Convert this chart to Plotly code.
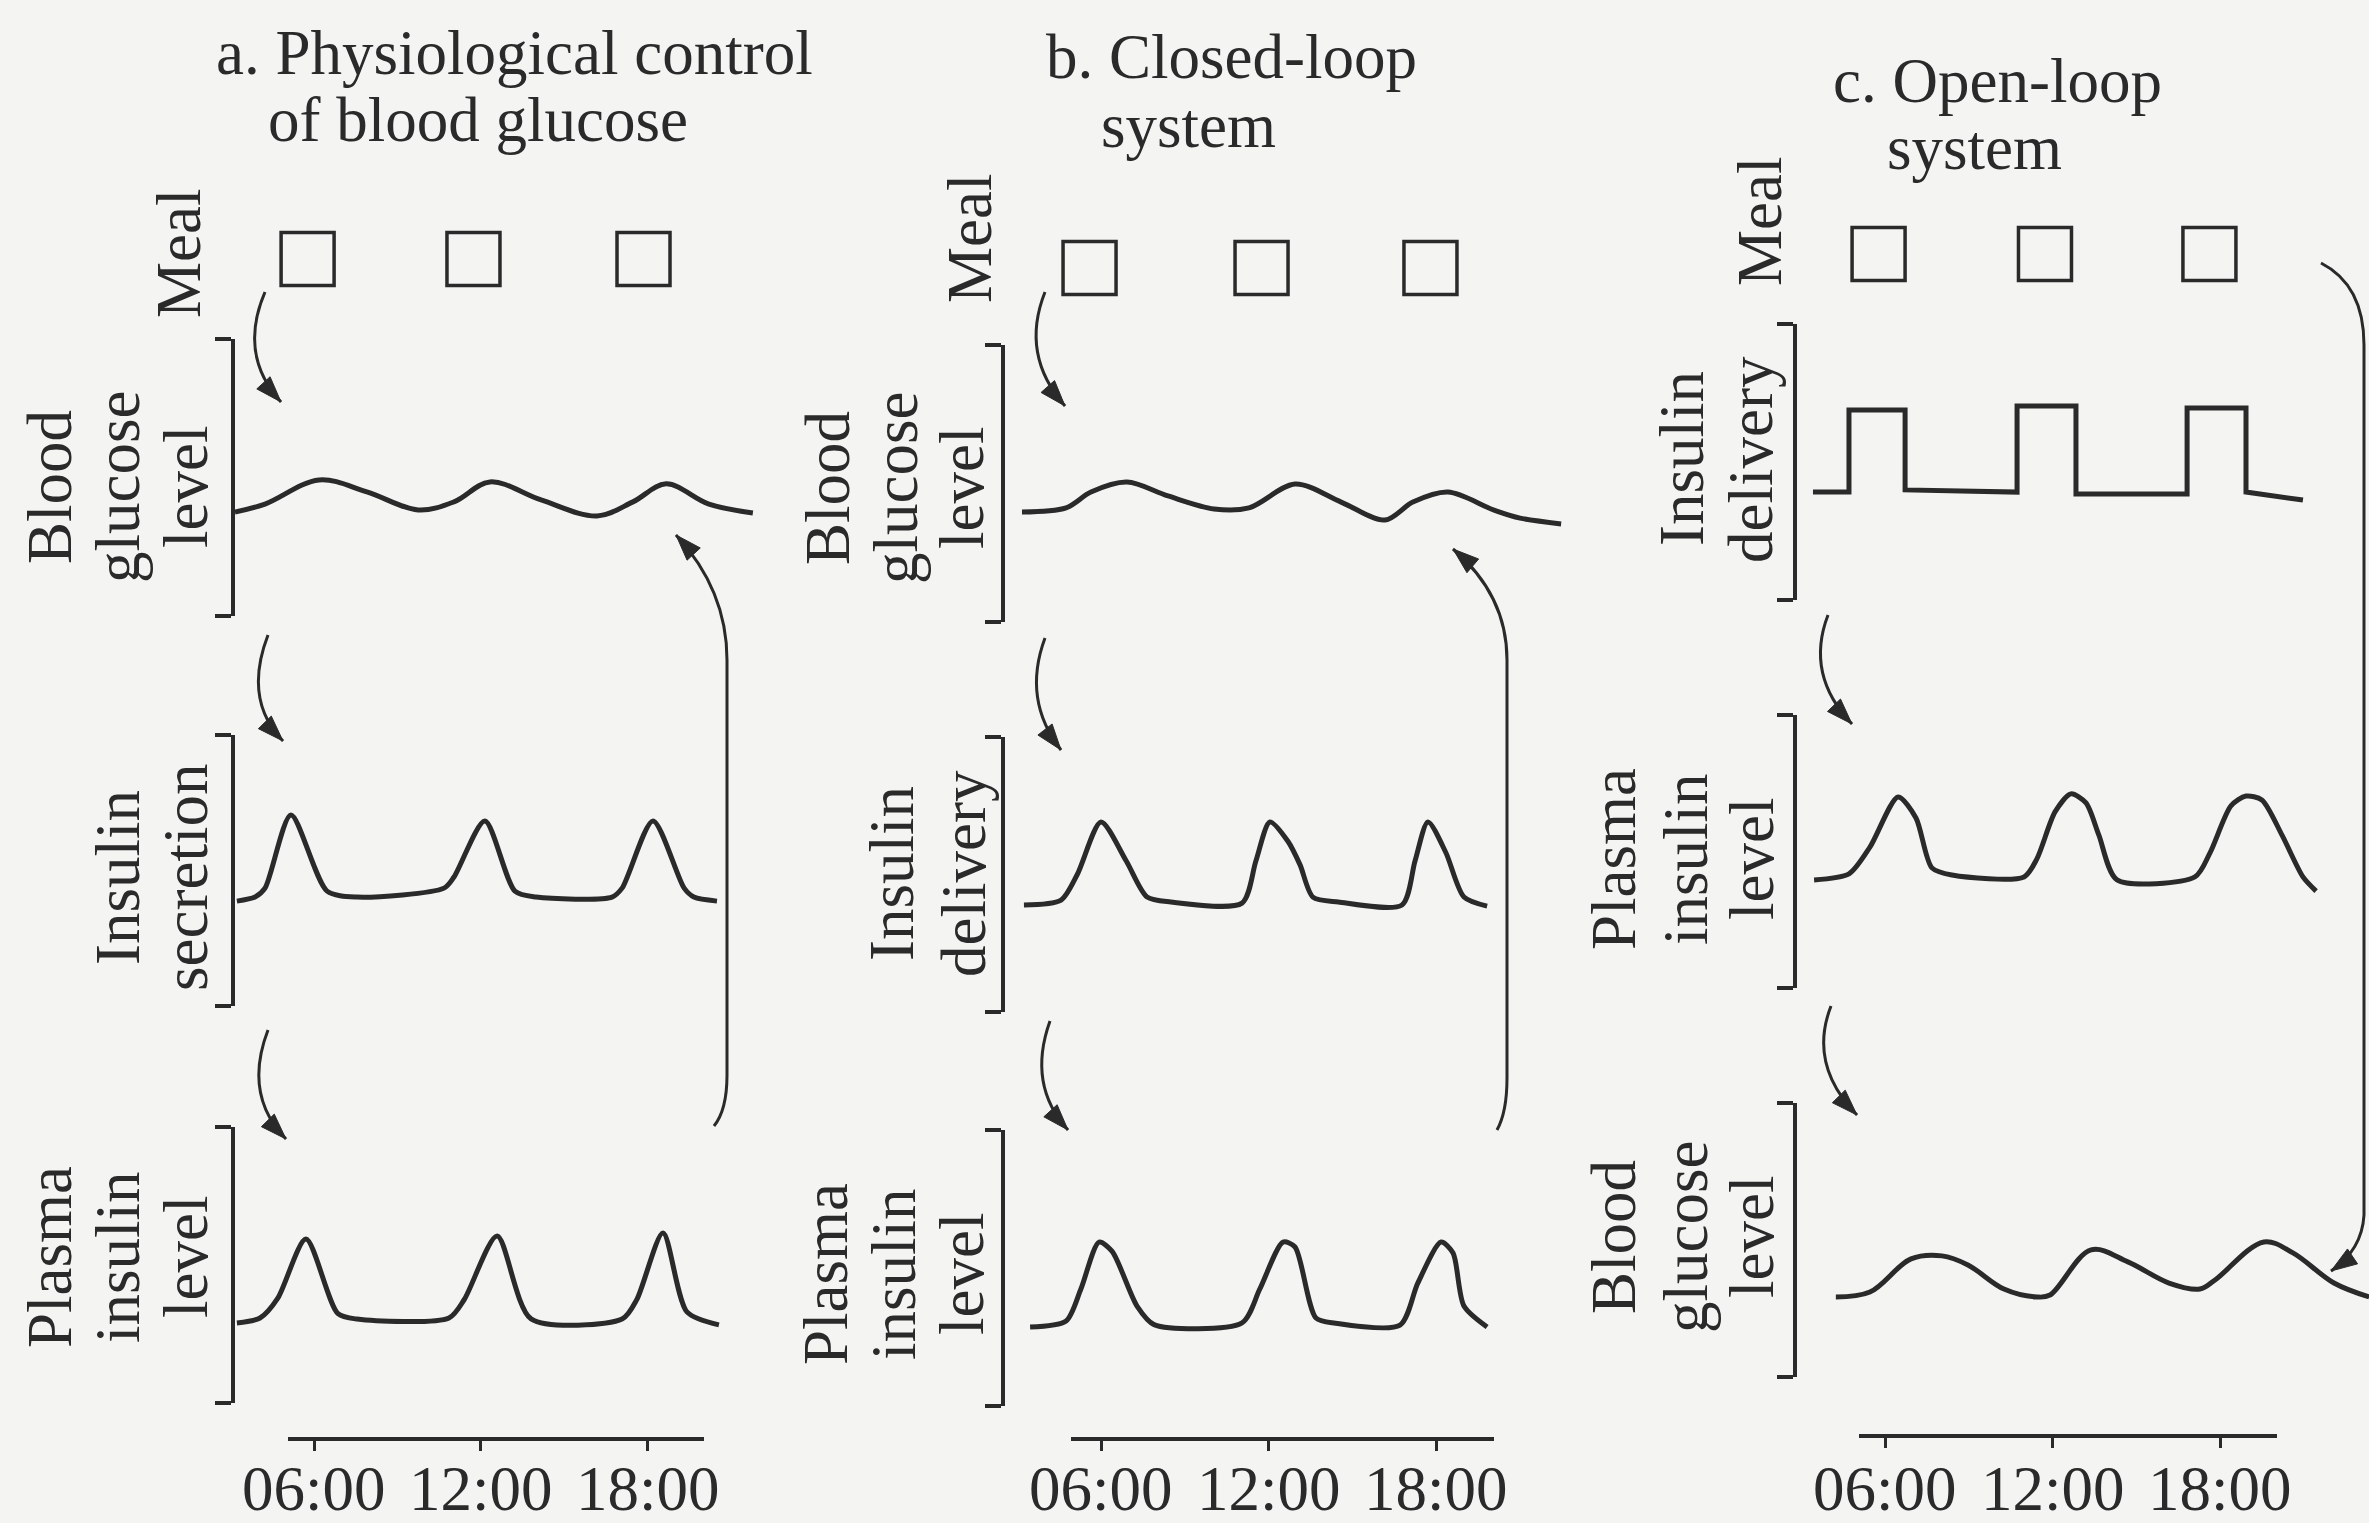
import math
import plotly.graph_objects as go

# ---------------- data (hours of the day / relative level 0-100) ----------------
TICK_HOURS = [6, 12, 18]
TICK_LABELS = ["06:00", "12:00", "18:00"]

TITLE_A = ["a. Physiological control", "of blood glucose"]
TITLE_B = ["b. Closed-loop", "system"]
TITLE_C = ["c. Open-loop", "system"]

MEAL_A = [5.77, 11.73, 17.84]
MEAL_B = [5.59, 11.75, 17.80]
MEAL_C = [5.77, 11.73, 17.62]
MEAL_LEVEL = [0.5, 0.5, 0.5]

# a. physiological control
A_GLUCOSE_H = [3.16, 4.24, 6.18, 7.90, 9.74, 11.03, 12.32, 14.16, 16.17, 17.46, 18.65, 20.19, 21.77]
A_GLUCOSE_V = [37.5, 40.4, 49.1, 44.8, 38.3, 41.2, 48.4, 41.9, 36.1, 41.2, 47.7, 40.4, 37.2]
A_SECRETION_H = [3.23, 3.88, 4.24, 5.17, 6.47, 7.55, 10.67, 11.03, 12.14, 13.22, 13.98, 16.71, 17.07, 18.18, 19.30, 19.65, 20.48]
A_SECRETION_V = [38.7, 40.2, 43.5, 70.5, 42.4, 40.2, 43.5, 47.6, 68.3, 42.4, 40.2, 40.2, 43.5, 68.3, 43.5, 40.2, 38.7]
A_PLASMA_H = [3.23, 4.06, 4.70, 5.71, 6.85, 7.55, 10.85, 11.40, 12.58, 13.80, 17.07, 17.60, 18.54, 19.40, 20.55]
A_PLASMA_V = [29.0, 30.8, 38.0, 59.4, 32.5, 30.4, 30.8, 37.5, 60.5, 30.5, 30.4, 37.5, 61.6, 33.0, 28.3]

# b. closed-loop system
B_GLUCOSE_H = [3.17, 4.75, 5.64, 6.93, 8.40, 10.05, 11.30, 12.95, 14.60, 16.17, 17.17, 18.43, 20.08, 21.01, 22.48]
B_GLUCOSE_V = [39.7, 41.2, 46.9, 50.5, 45.5, 40.8, 41.2, 49.8, 43.3, 36.8, 43.3, 46.9, 40.4, 37.5, 35.4]
B_DELIVERY_H = [3.24, 4.57, 5.15, 6.00, 6.90, 7.65, 8.50, 11.05, 11.55, 12.05, 12.70, 13.13, 13.59, 14.50, 16.78, 17.25, 17.71, 18.35, 19.00, 19.83]
B_DELIVERY_V = [38.9, 40.7, 50.0, 69.1, 55.0, 41.8, 40.0, 39.6, 55.0, 69.1, 62.0, 53.5, 41.8, 40.0, 38.9, 55.0, 69.1, 58.0, 41.8, 38.5]
B_PLASMA_H = [3.46, 4.75, 5.28, 5.93, 6.40, 7.29, 7.90, 11.05, 11.69, 12.52, 12.95, 13.70, 14.40, 16.71, 17.35, 18.18, 18.61, 19.00, 19.83]
B_PLASMA_V = [28.6, 30.8, 42.4, 59.4, 56.0, 36.2, 29.5, 30.1, 42.4, 59.4, 57.6, 31.9, 30.0, 29.3, 44.6, 59.4, 55.4, 36.2, 28.6]

# c. open-loop system
C_DELIVERY_H = [3.42, 4.71, 4.71, 6.72, 6.72, 10.73, 10.73, 12.84, 12.84, 16.82, 16.82, 18.93, 18.93, 20.97]
C_DELIVERY_V = [39.1, 39.1, 68.8, 68.8, 39.9, 39.1, 70.3, 70.3, 38.4, 38.4, 69.6, 69.6, 39.1, 36.2]
C_PLASMA_H = [3.46, 4.71, 5.46, 6.47, 7.11, 7.68, 8.40, 10.98, 11.44, 12.09, 12.66, 13.20, 13.66, 14.31, 17.10, 17.64, 18.39, 18.93, 19.50, 20.22, 20.97, 21.44]
C_PLASMA_V = [39.6, 41.8, 51.6, 70.0, 62.3, 44.0, 41.4, 40.7, 47.3, 64.5, 71.1, 67.8, 56.0, 39.6, 40.7, 49.5, 66.7, 70.3, 68.9, 56.0, 40.7, 35.5]
C_GLUCOSE_H = [4.24, 5.46, 6.93, 8.04, 8.97, 10.26, 11.44, 11.91, 13.38, 14.70, 16.17, 17.28, 17.82, 19.57, 20.61, 22.08, 23.34]
C_GLUCOSE_V = [29.2, 31.0, 43.1, 44.2, 40.9, 32.1, 29.2, 29.9, 46.4, 42.0, 34.3, 32.1, 35.4, 49.3, 45.3, 34.3, 29.2]

# ---------------- styling / layout geometry (pixels of the 2369x1523 canvas) ----------------
W, H = 2369, 1523
INK = "#2a2a2a"
BG = "#f4f4f3"
FONT = "Liberation Serif, Times New Roman, serif"
FS = 63


def fx(px):
    return px / W


def fy(py):
    return 1 - py / H


columns = [
    dict(p6=314, k=27.83, left=235, right=760, meal_y=259, axis=(288, 704, 1437),
         meal=MEAL_A,
         panels=[((339, 616), A_GLUCOSE_H, A_GLUCOSE_V, "spline", 1.0),
                 ((735, 1006), A_SECRETION_H, A_SECRETION_V, "spline", 0.75),
                 ((1127, 1403), A_PLASMA_H, A_PLASMA_V, "spline", 0.75)]),
    dict(p6=1101, k=27.92, left=1005, right=1565, meal_y=268, axis=(1071, 1494, 1437),
         meal=MEAL_B,
         panels=[((345, 622), B_GLUCOSE_H, B_GLUCOSE_V, "spline", 0.9),
                 ((737, 1012), B_DELIVERY_H, B_DELIVERY_V, "spline", 0.75),
                 ((1130, 1406), B_PLASMA_H, B_PLASMA_V, "spline", 0.75)]),
    dict(p6=1885, k=27.92, left=1797, right=2369, meal_y=254, axis=(1859, 2277, 1434),
         meal=MEAL_C,
         panels=[((324, 600), C_DELIVERY_H, C_DELIVERY_V, "linear", 0),
                 ((715, 988), C_PLASMA_H, C_PLASMA_V, "spline", 0.75),
                 ((1103, 1377), C_GLUCOSE_H, C_GLUCOSE_V, "spline", 1.0)]),
]

layout = {}
traces = []
annotations = []
counter = [0]


def add_axes(xpx, ypx, xrange, yrange):
    counter[0] += 1
    n = counter[0]
    s = "" if n == 1 else str(n)
    xa = dict(domain=[fx(xpx[0]), fx(xpx[1])], range=xrange, anchor="y" + s,
              visible=False, fixedrange=True, showgrid=False, zeroline=False,
              automargin=False)
    ya = dict(domain=[fy(ypx[1]), fy(ypx[0])], range=yrange, anchor="x" + s,
              visible=False, fixedrange=True, showgrid=False, zeroline=False,
              automargin=False)
    layout["xaxis" + s] = xa
    layout["yaxis" + s] = ya
    return "x" + s, "y" + s, xa, ya


TICK_LABEL_Y = 1489  # centre of the time labels (px)

for col in columns:
    def hour(px, col=col):
        return 6 + (px - col["p6"]) / col["k"]

    xr = [hour(col["left"]), hour(col["right"])]
    # meal row
    xn, yn, xa, ya = add_axes((col["left"], col["right"]),
                              (col["meal_y"] - 40, col["meal_y"] + 40), xr, [0, 1])
    traces.append(go.Scatter(x=col["meal"], y=MEAL_LEVEL, xaxis=xn, yaxis=yn, mode="markers",
                             marker=dict(symbol="square-open", size=53, color=INK,
                                         line=dict(color=INK, width=3.5)),
                             hoverinfo="skip"))
    # three curve panels with bracket-like y axes
    for (top, bot), hx, vy, shape, smooth in col["panels"]:
        xn, yn, xa, ya = add_axes((col["left"], col["right"]), (top, bot), xr, [0, 100])
        ya.update(visible=True, showline=True, linewidth=4, linecolor=INK,
                  ticks="outside", tickvals=[0, 100], ticklen=16, tickwidth=4,
                  tickcolor=INK, showticklabels=False)
        line = dict(color=INK, width=5, shape=shape)
        if shape == "spline":
            line["smoothing"] = smooth
        traces.append(go.Scatter(x=hx, y=vy, xaxis=xn, yaxis=yn, mode="lines",
                                 line=line, cliponaxis=False, hoverinfo="skip"))
    # time axis
    x0, x1, ly = col["axis"]
    xn, yn, xa, ya = add_axes((x0, x1), (ly - 10, ly), [hour(x0), hour(x1)], [0, 1])
    xa.update(visible=True, showline=True, linewidth=4, linecolor=INK, ticks="outside",
              tickvals=TICK_HOURS, ticklen=10, tickwidth=3, tickcolor=INK,
              showticklabels=False)
    traces.append(go.Scatter(x=TICK_HOURS, y=[0.5, 0.5, 0.5], xaxis=xn, yaxis=yn,
                             mode="markers", marker=dict(opacity=0, size=1),
                             hoverinfo="skip"))
    for hv, lab in zip(TICK_HOURS, TICK_LABELS):
        annotations.append(dict(x=hv, xref=xn, y=fy(TICK_LABEL_Y), yref="paper",
                                text=lab, showarrow=False, xanchor="center",
                                yanchor="middle",
                                font=dict(family=FONT, size=FS, color=INK)))

# ---------------- text ----------------


def text(px, py, s, angle=0):
    annotations.append(dict(x=fx(px), y=fy(py), xref="paper", yref="paper", text=s,
                            showarrow=False, textangle=angle, xanchor="center",
                            yanchor="middle",
                            font=dict(family=FONT, size=FS, color=INK)))


# titles
text(514, 53, TITLE_A[0]); text(478, 120, TITLE_A[1])
text(1231, 57, TITLE_B[0]); text(1188, 126, TITLE_B[1])
text(1997, 81, TITLE_C[0]); text(1974, 148, TITLE_C[1])

# rotated side labels
labels = [
    # column a
    (179, 254, ["Meal"]),
    ((50, 118, 186), 487, ["Blood", "glucose", "level"]),
    ((118, 186), 878, ["Insulin", "secretion"]),
    ((50, 118, 186), 1257, ["Plasma", "insulin", "level"]),
    # column b
    (970, 239, ["Meal"]),
    ((828, 896, 962), 488, ["Blood", "glucose", "level"]),
    ((892, 964), 874, ["Insulin", "delivery"]),
    ((826, 894, 962), 1274, ["Plasma", "insulin", "level"]),
    # column c
    (1760, 222, ["Meal"]),
    ((1682, 1751), 459, ["Insulin", "delivery"]),
    ((1614, 1686, 1752), 859, ["Plasma", "insulin", "level"]),
    ((1614, 1686, 1752), 1237, ["Blood", "glucose", "level"]),
]
for xs, yc, lines in labels:
    if not isinstance(xs, tuple):
        xs = (xs,)
    for xpos, s in zip(xs, lines):
        text(xpos, yc, s, angle=-90)

# ---------------- arrows (decoration) ----------------
shapes = []


def P(px, py):
    return f"{fx(px):.6f},{fy(py):.6f}"


def head(tip, ctrl, L=26, hw=9):
    dx, dy = tip[0] - ctrl[0], tip[1] - ctrl[1]
    d = math.hypot(dx, dy)
    ux, uy = dx / d, dy / d
    bx, by = tip[0] - ux * L, tip[1] - uy * L
    p1 = (bx - uy * hw, by + ux * hw)
    p2 = (bx + uy * hw, by - ux * hw)
    shapes.append(dict(type="path", xref="paper", yref="paper",
                       path=f"M{P(*tip)} L{P(*p1)} L{P(*p2)} Z",
                       fillcolor=INK, line=dict(color=INK, width=1)))


def curved_arrow(start, ctrl, tip, width=3):
    shapes.append(dict(type="path", xref="paper", yref="paper",
                       path=f"M{P(*start)} Q{P(*ctrl)} {P(*tip)}",
                       line=dict(color=INK, width=width)))
    head(tip, ctrl)


small_arrows = [
    ((265, 292), (238, 355), (281, 402)),
    ((268, 635), (243, 700), (283, 741)),
    ((268, 1030), (243, 1095), (286, 1139)),
    ((1045, 292), (1020, 355), (1065, 406)),
    ((1045, 638), (1022, 700), (1061, 750)),
    ((1050, 1021), (1027, 1085), (1068, 1130)),
    ((1828, 615), (1805, 675), (1852, 724)),
    ((1831, 1006), (1808, 1065), (1857, 1115)),
]
for s, c, t in small_arrows:
    curved_arrow(s, c, t)

# feedback loops
feedback = [
    ([(714, 1126), (727, 1110), (727, 1075)], (727, 660), (727, 590), (676, 535)),
    ([(1497, 1130), (1507, 1112), (1507, 1078)], (1507, 660), (1507, 595), (1453, 549)),
]
for (a0, a1, a2), l1, c2, tip in feedback:
    shapes.append(dict(type="path", xref="paper", yref="paper",
                       path=f"M{P(*a0)} Q{P(*a1)} {P(*a2)} L{P(*l1)} Q{P(*c2)} {P(*tip)}",
                       line=dict(color=INK, width=3)))
    head(tip, c2)

# open-loop meal -> glucose arrow
shapes.append(dict(type="path", xref="paper", yref="paper",
                   path=f"M{P(2321, 263)} Q{P(2364, 285)} {P(2364, 345)} L{P(2364, 1215)} "
                        f"Q{P(2362, 1250)} {P(2331, 1271)}",
                   line=dict(color=INK, width=3)))
head((2331, 1271), (2362, 1250))

fig = go.Figure(data=traces)
fig.update_layout(**layout)
fig.update_layout(width=W, height=H, margin=dict(l=0, r=0, t=0, b=0, autoexpand=False),
                  paper_bgcolor=BG, plot_bgcolor="rgba(0,0,0,0)",
                  showlegend=False, hovermode=False,
                  annotations=annotations, shapes=shapes)

fig.write_html("out.html", config={"displayModeBar": False},
               post_script="document.body.style.margin='0';"
                           "document.body.style.overflow='hidden';")
